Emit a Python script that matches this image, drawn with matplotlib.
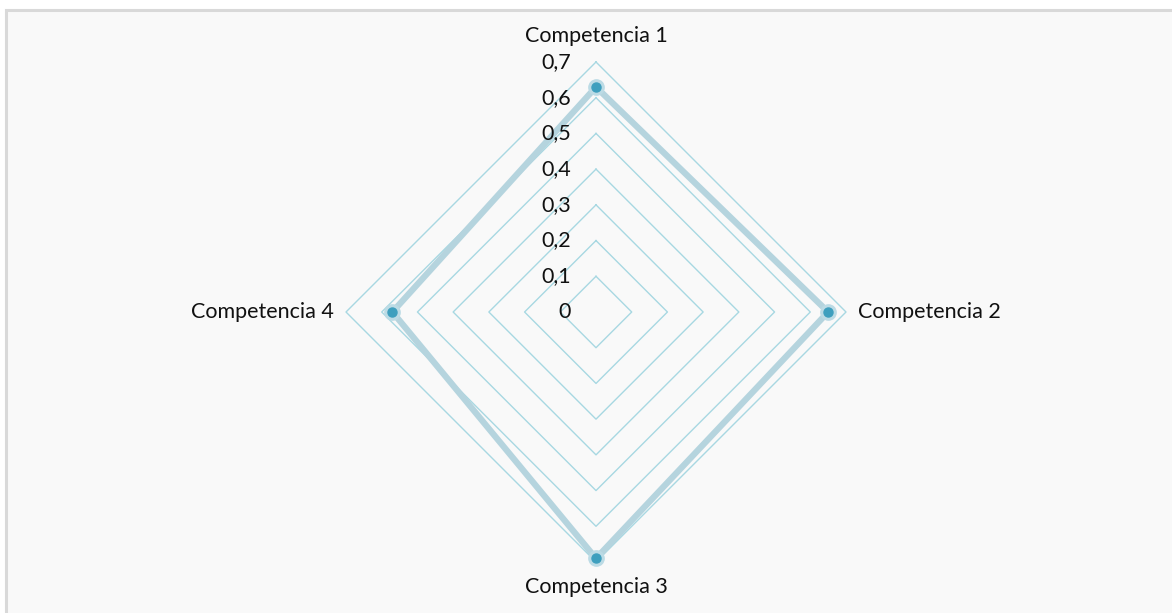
import numpy as np
import matplotlib
matplotlib.use("Agg")
import matplotlib.pyplot as plt
from matplotlib.patches import Rectangle

categorias = ["Competencia 1", "Competencia 2", "Competencia 3", "Competencia 4"]
valores = [0.63, 0.65, 0.69, 0.57]
niveles = [0.1, 0.2, 0.3, 0.4, 0.5, 0.6, 0.7]
etiquetas = ["0", "0,1", "0,2", "0,3", "0,4", "0,5", "0,6", "0,7"]

plt.rcParams['font.family'] = ['Lato', 'DejaVu Sans']

fig = plt.figure(figsize=(11.72, 6.13), dpi=100)
fig.patch.set_facecolor("white")

# marco de fondo
fig.patches.append(Rectangle((6 / 1172, -0.05), 1.1, (613 - 9.5) / 613 + 0.05,
                             transform=fig.transFigure, facecolor="#f9f9f9",
                             edgecolor="#d9d9d9", linewidth=2.2, zorder=-10))

ax = fig.add_axes([(596 - 250) / 1172, (613 - 312 - 250) / 613, 500 / 1172, 500 / 613],
                  projection="polar")
ax.set_zorder(5)
ax.set_facecolor("none")
ax.set_theta_zero_location("N")
ax.set_theta_direction(-1)
ax.set_ylim(0, 0.7)
ax.grid(False)
ax.spines["polar"].set_visible(False)
ax.set_xticks([])
ax.set_yticks([])

ang = np.linspace(0, 2 * np.pi, len(categorias), endpoint=False)
ang_c = np.append(ang, ang[0])

# rejilla poligonal
for r in niveles:
    ax.plot(ang_c, [r] * len(ang_c), color="#a8d8e2", lw=1.0, zorder=1, clip_on=False)

# serie
v = valores + valores[:1]
ax.plot(ang_c, v, color="#b5d4de", lw=4.5, zorder=3, solid_joinstyle="miter", clip_on=False)
ax.plot(ang, valores, "o", ms=11, color="#bcdbe5", zorder=4, clip_on=False)
ax.plot(ang, valores, "o", ms=6.5, color="#3e9fbe", zorder=5, clip_on=False)

# etiquetas del eje radial
for r, t in zip([0] + niveles, etiquetas):
    ax.annotate(t, xy=(0, r), xytext=(-18, 0), textcoords="offset points",
                ha="right", va="center", fontsize=15.5, color="#111111")

# etiquetas de categorías
offs = [(0, 11.5, "center", "bottom"), (9, 0, "left", "center"),
        (0, -11, "center", "top"), (-9, 0, "right", "center")]
for a, c, (dx, dy, ha, va) in zip(ang, categorias, offs):
    ax.annotate(c, xy=(a, 0.7), xytext=(dx, dy), textcoords="offset points",
                ha=ha, va=va, fontsize=15.5, color="#111111")

fig.savefig("out.png", dpi=100)
